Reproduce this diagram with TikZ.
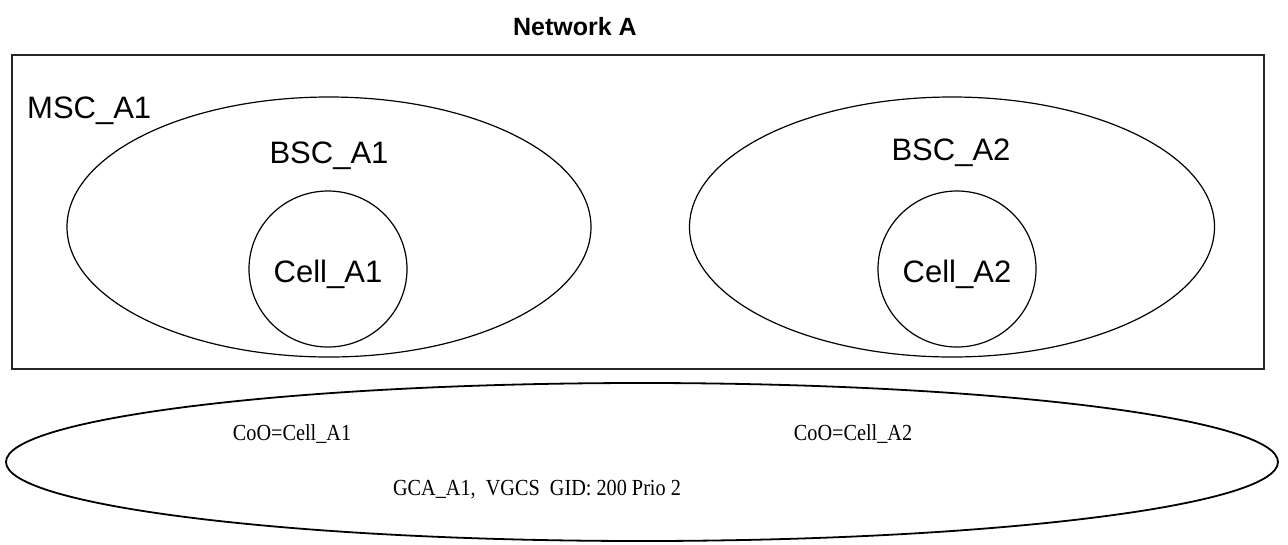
\documentclass[tikz,border=0pt]{standalone}
\usepackage{fontspec}
\usepackage{graphicx}
\setmainfont{Liberation Serif}
\setsansfont{Liberation Sans}
\usetikzlibrary{shapes.geometric}
\newcommand{\narrowtxt}[1]{\scalebox{0.88}[1]{#1}}
\begin{document}
\begin{tikzpicture}[x=1pt,y=-1pt,
  blob/.style={draw, ellipse, inner sep=0pt, line width=1.2pt},
  sanslbl/.style={font=\sffamily\fontsize{31}{36}\selectfont, inner sep=0pt},
  seriflbl/.style={font=\rmfamily\fontsize{23}{26}\selectfont, inner sep=0pt},
]
\useasboundingbox (0,0) rectangle (1288,544);
\node[font=\sffamily\bfseries\fontsize{25}{30}\selectfont] (title) at (575,27) {Network A};
\node[draw=black!85, line width=2pt, minimum width=1252pt, minimum height=314pt, inner sep=0pt] (msc) at (638,212) {};
\node[sanslbl, anchor=base west] (msclbl) at (27,118) {MSC\_A1};
% BSC A1
\node[blob, minimum width=524pt, minimum height=260pt] (bsc1) at (329,227) {};
\node[sanslbl, anchor=base] (bsc1lbl) at (329,163) {BSC\_A1};
\node[blob, minimum width=158pt, minimum height=156pt] (cell1) at (328,269) {};
\node[sanslbl, anchor=base] (cell1lbl) at (328,282) {Cell\_A1};
% BSC A2
\node[blob, minimum width=525pt, minimum height=260pt] (bsc2) at (952,227) {};
\node[sanslbl, anchor=base] (bsc2lbl) at (951,160) {BSC\_A2};
\node[blob, minimum width=158pt, minimum height=156pt] (cell2) at (957,269) {};
\node[sanslbl, anchor=base] (cell2lbl) at (957,282) {Cell\_A2};
% group call area
\node[blob, line width=1.8pt, minimum width=1272pt, minimum height=158pt] (gca) at (642,462) {};
\node[seriflbl] (coo1) at (292,434) {\narrowtxt{CoO=Cell\_A1}};
\node[seriflbl] (coo2) at (853,434) {\narrowtxt{CoO=Cell\_A2}};
\node[seriflbl] (gcalbl) at (537,490) {\narrowtxt{GCA\_A1,\ \ VGCS\ \ GID:\ 200\ Prio\ 2}};
\end{tikzpicture}
\end{document}
